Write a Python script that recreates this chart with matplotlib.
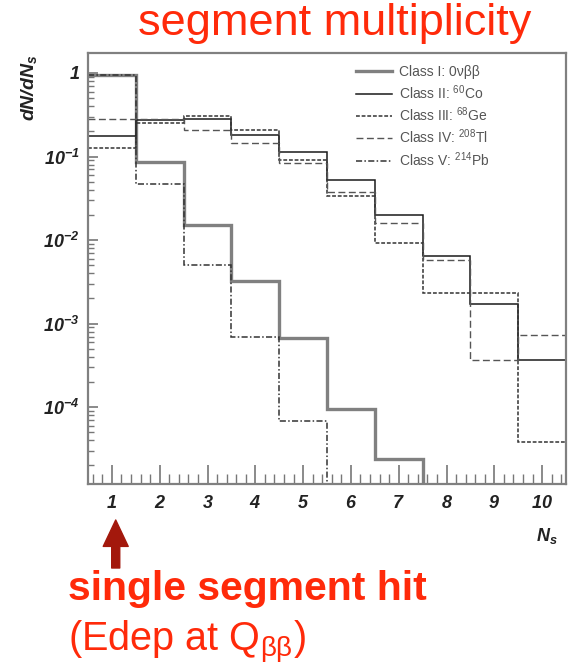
import numpy as np
import matplotlib
matplotlib.use("Agg")
import matplotlib.pyplot as plt
from matplotlib.ticker import FixedLocator, LogLocator, NullFormatter

plt.rcParams['font.family'] = ['Liberation Sans', 'DejaVu Sans']
plt.rcParams['mathtext.fontset'] = 'custom'
plt.rcParams['mathtext.rm'] = 'Liberation Sans'
plt.rcParams['mathtext.bf'] = 'Liberation Sans:bold:italic'  # ROOT style axis labels
plt.rcParams['mathtext.default'] = 'regular'

# segment multiplicity (bins 1..10), fraction of events per bin
n_seg = np.arange(1, 11)
class_I = [0.95, 0.087, 0.015, 0.0032, 6.7e-4, 9.4e-5, 2.4e-5, 0, 0, 0]           # 0vbb
class_II = [0.177, 0.27, 0.28, 0.18, 0.113, 0.052, 0.020, 0.0064, 0.0017, 3.7e-4]  # 60Co
class_III = [0.125, 0.25, 0.305, 0.21, 0.091, 0.034, 0.0093, 0.0023, 0.0023, 3.8e-5]  # 68Ge
class_IV = [0.279, 0.28, 0.21, 0.144, 0.083, 0.038, 0.016, 0.0058, 3.7e-4, 7.3e-4]  # 208Tl
class_V = [0.95, 0.047, 0.005, 7.0e-4, 6.8e-5, 0, 0, 0, 0, 0]                     # 214Pb

labels = ['Class I: 0νββ', 'Class II: $^{60}$Co', 'Class III: $^{68}$Ge',
          'Class IV: $^{208}$Tl', 'Class V: $^{214}$Pb']
y_ticks = [1e-4, 1e-3, 1e-2, 1e-1, 1]
y_ticklabels = [r'$\mathbf{10^{-4}}$', r'$\mathbf{10^{-3}}$', r'$\mathbf{10^{-2}}$',
                r'$\mathbf{10^{-1}}$', r'$\mathbf{1}$']

edges = np.append(n_seg - 0.5, n_seg[-1] + 0.5)

fig = plt.figure(figsize=(5.71, 6.66), dpi=100)
ax = fig.add_axes([88/571, 1 - 484/666, (566 - 88)/571, (484 - 52.7)/666])

ax.stairs(class_I, edges, baseline=None, color='#808080', lw=2.4, label=labels[0])
ax.stairs(class_II, edges, baseline=None, color='#1a1a1a', lw=1.1, label=labels[1])
ax.stairs(class_III, edges, baseline=None, color='#333333', lw=1.1,
          linestyle=(0, (2.5, 1.2)), label=labels[2])
ax.stairs(class_IV, edges, baseline=None, color='#555555', lw=1.0,
          linestyle=(0, (5, 2.5)), label=labels[3])
ax.stairs(class_V, edges, baseline=None, color='#333333', lw=1.1,
          linestyle=(0, (4, 1.5, 1, 1.5)), label=labels[4])

ax.set_yscale('log', nonpositive='clip')
ax.set_xlim(0.5, 10.5)
ax.set_ylim(1.2e-5, 1.75)

# ticks inside like ROOT
ax.xaxis.set_major_locator(FixedLocator(n_seg))
ax.xaxis.set_minor_locator(FixedLocator(np.arange(0.6, 10.5, 0.2)))
ax.set_xticklabels([r'$\mathbf{%d}$' % n for n in n_seg])
ax.yaxis.set_major_locator(FixedLocator(y_ticks))
ax.yaxis.set_minor_locator(LogLocator(base=10, subs=np.arange(2, 10)))
ax.yaxis.set_minor_formatter(NullFormatter())
ax.set_yticklabels(y_ticklabels)
ax.tick_params(axis='both', which='both', direction='in', colors='#777777',
               labelcolor='#222222', labelsize=13)
ax.tick_params(axis='x', which='major', length=14, width=1.2, pad=8)
ax.tick_params(axis='x', which='minor', length=7, width=1.0)
ax.tick_params(axis='y', which='major', length=7, width=1.2, pad=6)
ax.tick_params(axis='y', which='minor', length=4, width=1.0)
for s in ax.spines.values():
    s.set_color('#808080')
    s.set_linewidth(1.6)

leg = ax.legend(loc='upper left', bbox_to_anchor=(0.535, 1.0), frameon=False,
                fontsize=10, handlelength=2.6, handletextpad=0.5, labelspacing=0.27)
for t in leg.get_texts():
    t.set_color('#555555')

fig.text(29/571, 1 - 54/666, r'$\mathbf{dN/dN_s}$', rotation=90, ha='center',
         va='top', fontsize=14, color='#222222')
fig.text(558/571, 1 - 536/666, r'$\mathbf{N_s}$', ha='right', va='center',
         fontsize=13, color='#222222')

fig.text(335/571, 1 - 35/666, 'segment multiplicity', ha='center', va='baseline',
         fontsize=32.5, color='#ff2a0a')

# arrow pointing at the single-segment bin
ax.annotate('', xy=(1.08, 146), xytext=(1.08, 98),
            xycoords=('data', 'figure pixels'), textcoords=('data', 'figure pixels'),
            arrowprops=dict(arrowstyle='simple,head_length=1.9,head_width=1.8,tail_width=0.58',
                            mutation_scale=10, color='#a3180c', shrinkA=0, shrinkB=0),
            annotation_clip=False)
fig.text(68/571, 1 - 600/666, 'single segment hit', ha='left', va='baseline',
         fontsize=29.5, fontweight='bold', color='#ff2a0a')
fig.text(68/571, 1 - 651/666, '(Edep at Q$_{ββ}$)', ha='left', va='baseline',
         fontsize=28.5, color='#ff2a0a')

fig.savefig('out.png', dpi=100)
